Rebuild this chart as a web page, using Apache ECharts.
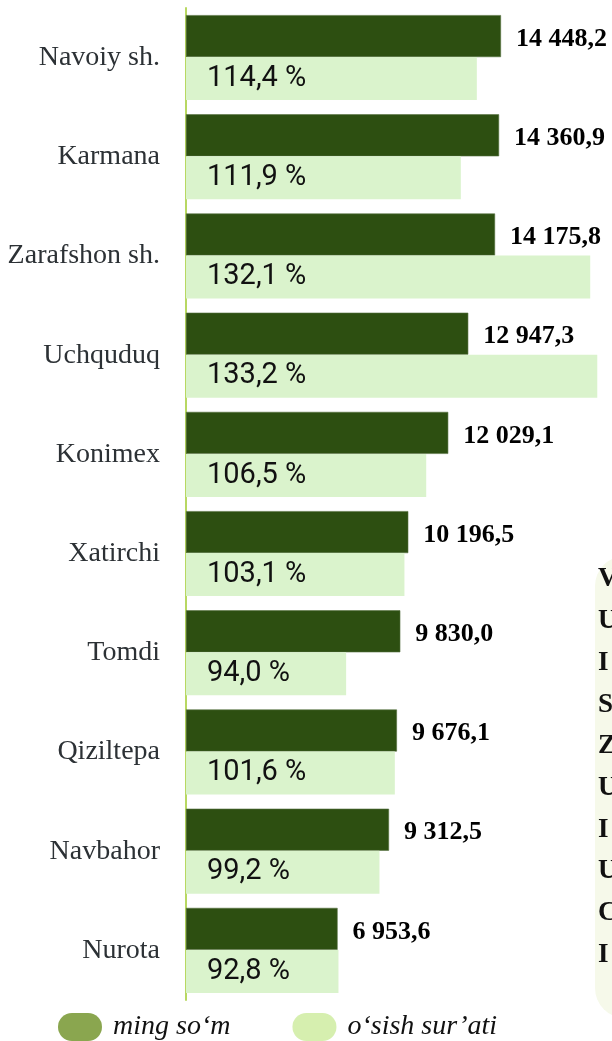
<!DOCTYPE html>
<html>
<head>
<meta charset="utf-8">
<style>
html,body{margin:0;padding:0;background:#fff;}
#chart{width:612px;height:1041px;}
</style>
<script src="https://cdn.jsdelivr.net/npm/echarts@6/dist/echarts.min.js"></script>
</head>
<body>
<div id="chart"></div>
<script>
const categories = ['Navoiy sh.', 'Karmana', 'Zarafshon sh.', 'Uchquduq', 'Konimex', 'Xatirchi', 'Tomdi', 'Qiziltepa', 'Navbahor', 'Nurota'];
const mingSom = [14448.2, 14360.9, 14175.8, 12947.3, 12029.1, 10196.5, 9830.0, 9676.1, 9312.5, 6953.6];
const osishSurati = [114.4, 111.9, 132.1, 133.2, 106.5, 103.1, 94.0, 101.6, 99.2, 92.8];
const legendNames = ['ming so‘m', 'o‘sish sur’ati'];
const sideLetters = ['V', 'U', 'I', 'S', 'Z', 'U', 'I', 'U', 'C', 'I'];

function fmtSom(v) {
  const parts = v.toFixed(1).split('.');
  const intPart = parts[0].replace(/\B(?=(\d{3})+(?!\d))/g, ' ');
  return intPart + ',' + parts[1];
}
function fmtPct(v) {
  return v.toFixed(1).replace('.', ',') + ' %';
}

const chart = echarts.init(document.getElementById('chart'));
const serif = '"Liberation Serif", "Times New Roman", serif';

const letterGraphics = sideLetters.map((ch, i) => ({
  type: 'text',
  left: 598,
  top: 566 + i * 41.7,
  style: { text: ch, font: 'bold 27px ' + serif, fill: '#111' },
  z: 10
}));

const option = {
  animation: false,
  backgroundColor: '#ffffff',
  grid: { left: 186, right: 0, top: 8, bottom: 41, containLabel: false },
  xAxis: [
    { type: 'value', min: 0, max: 19540, show: false },
    { type: 'value', min: 69, max: 135.5, show: false }
  ],
  yAxis: {
    type: 'category',
    data: categories,
    inverse: true,
    axisLine: { show: true, lineStyle: { color: '#b8d862', width: 2 } },
    axisTick: { show: false },
    splitLine: { show: false },
    axisLabel: { margin: 26, fontFamily: serif, fontSize: 28, color: '#2c3135' }
  },
  legend: {
    left: 58,
    top: 1013,
    padding: 0,
    itemWidth: 44,
    itemHeight: 28,
    itemGap: 62,
    icon: 'path://M14,0 H30 A14,14 0 0 1 30,28 H14 A14,14 0 0 1 14,0 Z',
    textStyle: { fontFamily: serif, fontStyle: 'italic', fontSize: 28, color: '#111', padding: [0, 0, 0, 6] },
    data: [
      { name: legendNames[0], itemStyle: { color: '#8aa64f', borderWidth: 0 } },
      { name: legendNames[1], itemStyle: { color: '#d6efaf', borderWidth: 0 } }
    ]
  },
  graphic: [
    {
      type: 'rect',
      left: 595, top: 556,
      shape: { width: 70, height: 462, r: 30 },
      style: { fill: '#f6f9ea' },
      z: 5
    }
  ].concat(letterGraphics),
  series: [
    {
      name: legendNames[0],
      type: 'bar',
      xAxisIndex: 0,
      data: mingSom,
      barWidth: 42,
      barGap: '0%',
      itemStyle: { color: '#2d4f11', borderColor: '#55703f', borderWidth: 0.6 },
      label: {
        show: true,
        position: 'right',
        distance: 15,
        offset: [0, 3],
        formatter: p => fmtSom(p.value),
        fontFamily: serif,
        fontWeight: 'bold',
        fontSize: 26,
        color: '#000'
      }
    },
    {
      name: legendNames[1],
      type: 'bar',
      xAxisIndex: 1,
      data: osishSurati,
      barWidth: 43,
      barGap: '0%',
      itemStyle: { color: '#daf3cc' },
      label: {
        show: true,
        position: 'insideLeft',
        distance: 21,
        formatter: p => fmtPct(p.value),
        fontFamily: 'Roboto, sans-serif',
        fontSize: 29,
        color: '#111'
      }
    }
  ]
};
chart.setOption(option);
</script>
</body>
</html>
